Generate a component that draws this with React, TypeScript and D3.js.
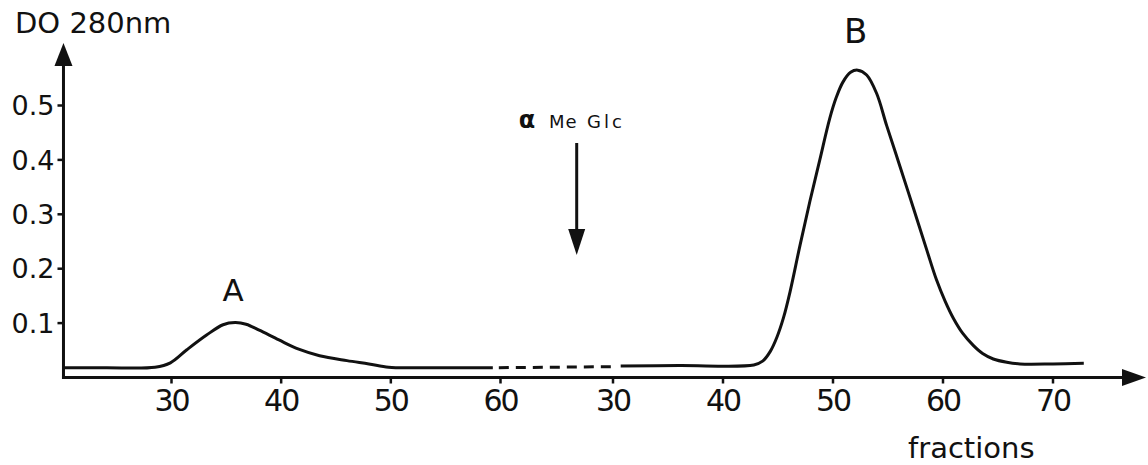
import React from "react";
import * as d3 from "d3";

// ---- data ----
const leftTicks = [30, 40, 50, 60];
const rightTicks = [30, 40, 50, 60, 70];
const yTicks = [0.1, 0.2, 0.3, 0.4, 0.5];
const yTickLabels = ["0.1", "0.2", "0.3", "0.4", "0.5"];

// first run (peak A)
const leftFrac = [20.2, 24, 28.5, 29.9, 31.4, 33.2, 34.7, 35.8, 36.8, 38.0, 39.8, 41.6, 43.5, 46, 48.0, 49.8, 52, 55, 59.3];
const leftOD = [0.018, 0.018, 0.019, 0.027, 0.051, 0.078, 0.097, 0.101, 0.098, 0.087, 0.069, 0.052, 0.040, 0.031, 0.025, 0.019, 0.018, 0.018, 0.018];

// second run after α Me Glc (peak B)
const rightFrac = [30.7, 36, 42.8, 43.6, 44.3, 44.9, 45.5, 46.1, 47.0, 47.9, 48.8, 49.7, 50.3, 50.9, 51.6, 52.25, 53.06, 53.97, 54.88, 56.09, 57.3, 58.5, 59.4, 60.2, 60.94, 61.8, 62.75, 63.6, 64.57, 65.8, 67.0, 70, 72.8];
const rightOD = [0.021, 0.022, 0.023, 0.030, 0.048, 0.074, 0.110, 0.158, 0.243, 0.324, 0.400, 0.476, 0.515, 0.543, 0.561, 0.565, 0.556, 0.522, 0.463, 0.388, 0.312, 0.236, 0.180, 0.140, 0.109, 0.081, 0.059, 0.044, 0.034, 0.028, 0.025, 0.025, 0.026];

// dashed break between the two runs
const breakStart = { frac: 59.3, od: 0.018 };
const breakEnd = { frac: 30.7, od: 0.02 };

// annotations
const peakLabels = [
  { text: "A", side: "left", frac: 35.8, od: 0.101 },
  { text: "B", side: "right", frac: 52.25, od: 0.565 },
];
const arrowFrac = 26.7; // on the right-run scale, inside the break

const INK = "#111";
const FONT = "'DejaVu Sans', Verdana, sans-serif";

export default function App() {
  const W = 1148;
  const H = 465;

  const xL = d3.scaleLinear().domain([30, 60]).range([171.5, 500.5]);
  const xR = d3.scaleLinear().domain([30, 70]).range([613, 1053]);
  const y = d3.scaleLinear().domain([0, 0.5]).range([377.5, 105.5]);

  const axisX0 = xL(20.15);
  const axisY0 = y(0);

  const lineL = d3
    .line<number>()
    .x((_, i) => xL(leftFrac[i]))
    .y((_, i) => y(leftOD[i]))
    .curve(d3.curveCatmullRom.alpha(0.5));
  const lineR = d3
    .line<number>()
    .x((_, i) => xR(rightFrac[i]))
    .y((_, i) => y(rightOD[i]))
    .curve(d3.curveCatmullRom.alpha(0.5));

  const yArrowTip = 43;
  const xArrowTip = 1146;
  const ax = xR(arrowFrac);

  return (
    <svg
      width={W}
      height={H}
      style={{ position: "absolute", left: 0, top: 0, display: "block", background: "#fff" }}
      fontFamily={FONT}
    >
      {/* y axis */}
      <line x1={axisX0} y1={axisY0 + 1.5} x2={axisX0} y2={yArrowTip + 18} stroke={INK} strokeWidth={3} />
      <path
        d={`M${axisX0},${yArrowTip} L${axisX0 - 9},${yArrowTip + 23} L${axisX0 + 9},${yArrowTip + 23} Z`}
        fill={INK}
      />
      {yTicks.map((t, i) => (
        <g key={"yt" + i}>
          <line x1={axisX0 - 6} x2={axisX0} y1={y(t)} y2={y(t)} stroke={INK} strokeWidth={2.5} />
          <text x={axisX0 - 9} y={y(t)} dy="0.36em" textAnchor="end" fontSize={27} fill={INK}>
            {yTickLabels[i]}
          </text>
        </g>
      ))}
      <text x={15} y={33} fontSize={29} fill={INK}>
        DO 280nm
      </text>

      {/* x axis */}
      <line x1={axisX0 - 1.5} y1={axisY0} x2={xArrowTip - 20} y2={axisY0} stroke={INK} strokeWidth={3} />
      <path
        d={`M${xArrowTip},${axisY0} L${xArrowTip - 24},${axisY0 - 8.5} L${xArrowTip - 24},${axisY0 + 8.5} Z`}
        fill={INK}
      />
      {leftTicks.map((t) => (
        <g key={"xl" + t}>
          <line x1={xL(t)} x2={xL(t)} y1={axisY0} y2={axisY0 + 6} stroke={INK} strokeWidth={2.5} />
          <text x={xL(t)} y={411} textAnchor="middle" fontSize={30} letterSpacing={-2} fill={INK}>
            {t}
          </text>
        </g>
      ))}
      {rightTicks.map((t) => (
        <g key={"xr" + t}>
          <line x1={xR(t)} x2={xR(t)} y1={axisY0} y2={axisY0 + 6} stroke={INK} strokeWidth={2.5} />
          <text x={xR(t)} y={411} textAnchor="middle" fontSize={30} letterSpacing={-2} fill={INK}>
            {t}
          </text>
        </g>
      ))}
      <text x={908} y={458} fontSize={29} fill={INK}>
        fractions
      </text>

      {/* curves */}
      <path d={lineL(leftFrac) || ""} fill="none" stroke={INK} strokeWidth={3} strokeLinejoin="round" />
      <path d={lineR(rightFrac) || ""} fill="none" stroke={INK} strokeWidth={3} strokeLinejoin="round" />
      <line
        x1={xL(breakStart.frac) + 6}
        y1={y(breakStart.od)}
        x2={xR(breakEnd.frac) - 4}
        y2={y(breakEnd.od)}
        stroke={INK}
        strokeWidth={3}
        strokeDasharray="10 7"
      />

      {/* peak labels */}
      {peakLabels.map((p) => {
        const px = p.side === "left" ? xL(p.frac) : xR(p.frac);
        const py = y(p.od);
        return (
          <text
            key={p.text}
            x={px - 2}
            y={py - (p.text === "A" ? 22 : 27)}
            textAnchor="middle"
            fontSize={p.text === "A" ? 31 : 34}
            fill={INK}
          >
            {p.text}
          </text>
        );
      })}

      {/* α Me Glc arrow */}
      <text x={527} y={128} textAnchor="middle" fontSize={24} fontWeight="bold" fill={INK}>
        α
      </text>
      <text x={549} y={128} fontSize={18} fill={INK} letterSpacing={1}>
        Me
      </text>
      <text x={587} y={128} fontSize={18} fill={INK} letterSpacing={3}>
        Glc
      </text>
      <line x1={ax} y1={143} x2={ax} y2={236} stroke={INK} strokeWidth={3} />
      <path d={`M${ax},255 L${ax - 8.5},229 L${ax + 8.5},229 Z`} fill={INK} />
    </svg>
  );
}
